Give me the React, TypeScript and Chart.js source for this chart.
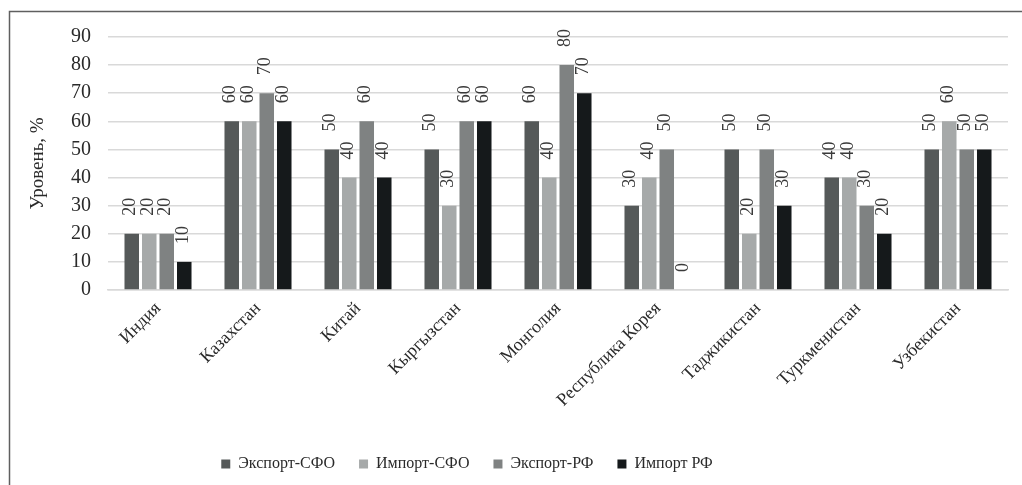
import React, { useEffect, useRef } from "react";
import { Chart, registerables } from "chart.js";

Chart.register(...registerables);

const categories = [
  "Индия",
  "Казахстан",
  "Китай",
  "Кыргызстан",
  "Монголия",
  "Республика Корея",
  "Таджикистан",
  "Туркменистан",
  "Узбекистан",
];
const exportSFO = [20, 60, 50, 50, 60, 30, 50, 40, 50];
const importSFO = [20, 60, 40, 30, 40, 40, 20, 40, 60];
const exportRF = [20, 70, 60, 60, 80, 50, 50, 30, 50];
const importRF = [10, 60, 40, 60, 70, 0, 30, 20, 50];
const seriesNames = ["Экспорт-СФО", "Импорт-СФО", "Экспорт-РФ", "Импорт РФ"];
const seriesColors = ["#555959", "#a6a9a9", "#7f8282", "#15191b"];
const yTicks = [0, 10, 20, 30, 40, 50, 60, 70, 80, 90];
const yTitle = "Уровень, %";

const FONT = "'Liberation Serif', 'Times New Roman', serif";

const framePlugin = {
  id: "frame",
  beforeDraw(chart: any) {
    const ctx = chart.ctx;
    ctx.save();
    ctx.strokeStyle = "#5f5f5f";
    ctx.lineWidth = 1.5;
    ctx.strokeRect(9.5, 11.5, 2000, 2000);
    ctx.restore();
  },
};

const legendShift = {
  id: "legendShift",
  afterLayout(chart: any) {
    const lg = chart.legend;
    if (!lg) return;
    const w = lg.right - lg.left;
    const target = 467;
    lg.left = target - w / 2;
    lg.right = target + w / 2;
  },
};

const valueLabels = {
  id: "valueLabels",
  afterDatasetsDraw(chart: any) {
    const ctx = chart.ctx;
    ctx.save();
    ctx.font = `18px ${FONT}`;
    ctx.fillStyle = "#3a3a3a";
    ctx.textAlign = "left";
    ctx.textBaseline = "middle";
    chart.data.datasets.forEach((ds: any, i: number) => {
      const meta = chart.getDatasetMeta(i);
      meta.data.forEach((bar: any, j: number) => {
        ctx.save();
        ctx.translate(bar.x - 1, bar.y - 18);
        ctx.rotate(-Math.PI / 2);
        ctx.fillText(String(ds.data[j]), 0, 0);
        ctx.restore();
      });
    });
    ctx.restore();
  },
};

export default function App() {
  const ref = useRef<HTMLCanvasElement>(null);
  useEffect(() => {
    const chart = new Chart(ref.current!, {
      type: "bar",
      data: {
        labels: categories,
        datasets: [exportSFO, importSFO, exportRF, importRF].map((d, i) => ({
          label: seriesNames[i],
          data: d,
          backgroundColor: seriesColors[i],
          borderWidth: 0,
          categoryPercentage: 0.7,
          barPercentage: 0.83,
        })),
      },
      options: {
        animation: false,
        responsive: true,
        maintainAspectRatio: false,
        layout: { padding: { top: 37, right: 14, bottom: 3, left: 0 } },
        plugins: {
          tooltip: { enabled: false },
          legend: {
            position: "bottom",
            labels: {
              boxWidth: 9,
              boxHeight: 9,
              padding: 24,
              color: "#2a2a2a",
              font: { family: FONT, size: 16 },
            },
          },
        },
        scales: {
          x: {
            grid: { display: false, drawTicks: false },
            border: { display: true, color: "#d9d9d9", width: 1.5 },
            ticks: {
              color: "#2a2a2a",
              font: { family: FONT, size: 18 },
              minRotation: 45,
              maxRotation: 45,
              autoSkip: false,
              padding: 8,
            },
            afterFit(scale: any) {
              scale.height = 142;
            },
          },
          y: {
            min: 0,
            max: 90,
            afterBuildTicks(scale: any) {
              scale.ticks = yTicks.map((v) => ({ value: v }));
            },
            grid: { color: "#d9d9d9", lineWidth: 1.5, drawTicks: false },
            border: { display: false },
            ticks: {
              color: "#2a2a2a",
              font: { family: FONT, size: 20 },
              padding: 17,
            },
            title: {
              display: true,
              text: yTitle,
              color: "#2a2a2a",
              font: { family: FONT, size: 19 },
              padding: { top: 27, bottom: 0 },
            },
            afterFit(scale: any) {
              scale.width = 108;
            },
          },
        },
      },
      plugins: [framePlugin, legendShift, valueLabels],
    });
    return () => chart.destroy();
  }, []);
  return (
    <div style={{ position: "fixed", left: 0, top: 0, width: 1022, height: 485, background: "#fff" }}>
      <canvas ref={ref} />
    </div>
  );
}
